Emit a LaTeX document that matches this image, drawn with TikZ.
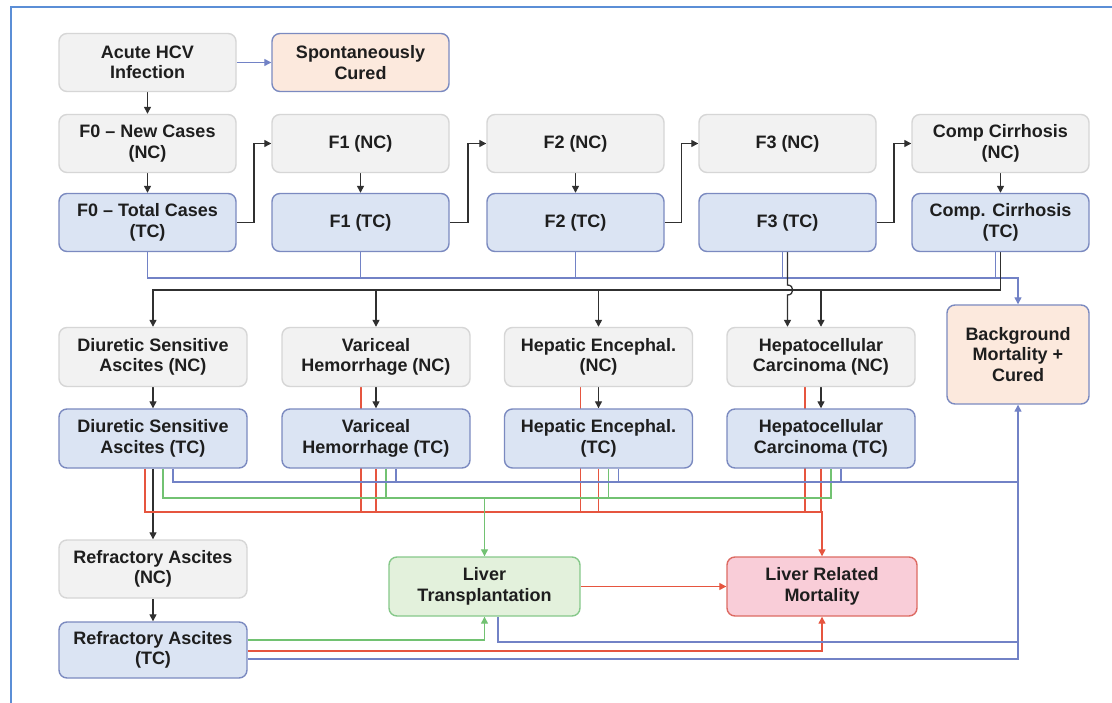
\documentclass[tikz,border=0pt]{standalone}
\usepackage{fontspec}
\setmainfont{Liberation Sans}
\usetikzlibrary{arrows.meta,calc}
\pgfdeclarelayer{paper}
\pgfdeclarelayer{wires}
\pgfsetlayers{paper,wires,main}

\definecolor{txt}{HTML}{1E1E1E}
\definecolor{ncfill}{HTML}{F2F2F2}
\definecolor{ncline}{HTML}{D6D6D6}
\definecolor{tcfill}{HTML}{DBE4F3}
\definecolor{tcline}{HTML}{7B8AC0}
\definecolor{peach}{HTML}{FCE9DD}
\definecolor{ltfill}{HTML}{E3F1DC}
\definecolor{ltline}{HTML}{86C88A}
\definecolor{lrmfill}{HTML}{F9CDD8}
\definecolor{lrmline}{HTML}{DD6B63}
\definecolor{kline}{HTML}{303030}
\definecolor{bline}{HTML}{7282C6}
\definecolor{rline}{HTML}{E6553F}
\definecolor{gline}{HTML}{72C272}
\definecolor{frame}{HTML}{5B8ED6}

\tikzset{
  box/.style={rounded corners=8pt, align=center, text=txt, inner sep=1pt,
    line width=1.4pt, font=\bfseries\fontsize{18}{20.5}\selectfont},
  nc/.style={box, draw=ncline, fill=ncfill},
  tc/.style={box, draw=tcline, fill=tcfill},
  cur/.style={box, draw=tcline, fill=peach},
  ltx/.style={box, draw=ltline, fill=ltfill},
  lrmx/.style={box, draw=lrmline, fill=lrmfill},
  colA/.style={minimum width=177pt, minimum height=58pt},
  colB/.style={minimum width=188pt, minimum height=59pt},
  wire/.style={line width=1.3pt},
  tip/.style={-{Triangle[length=7pt,width=7pt]}},
  kw/.style={wire, draw=kline},
  bw/.style={wire, draw=bline},
  rw/.style={wire, draw=rline},
  gw/.style={wire, draw=gline},
}

\begin{document}
\begin{tikzpicture}[x=1pt,y=-1pt]
\useasboundingbox (0,0) rectangle (1112,703);
\begin{pgfonlayer}{paper}
  \fill[white] (0,0) rectangle (1112,703);
\end{pgfonlayer}
\draw[frame, line width=2pt] (11,703) -- (11,7) -- (1112,7);

% top rows: staging of fibrosis
\node[nc,colA]  (acute) at (147.5,62.5) {Acute HCV\\Infection};
\node[cur,colA] (spont) at (360.5,62.5) {Spontaneously\\Cured};

\node[nc,colA] (f0nc) at (147.5,143.5)  {F0 -- New Cases\\(NC)};
\node[nc,colA] (f1nc) at (360.5,143.5)  {F1 (NC)};
\node[nc,colA] (f2nc) at (575.5,143.5)  {F2 (NC)};
\node[nc,colA] (f3nc) at (787.5,143.5)  {F3 (NC)};
\node[nc,colA] (ccnc) at (1000.5,143.5) {Comp Cirrhosis\\(NC)};

\node[tc,colA] (f0tc) at (147.5,222.5)  {F0 -- Total Cases\\(TC)};
\node[tc,colA] (f1tc) at (360.5,222.5)  {F1 (TC)};
\node[tc,colA] (f2tc) at (575.5,222.5)  {F2 (TC)};
\node[tc,colA] (f3tc) at (787.5,222.5)  {F3 (TC)};
\node[tc,colA] (cctc) at (1000.5,222.5) {Comp. Cirrhosis\\(TC)};

% complications
\node[nc,colB] (dsnc) at (153,357)   {Diuretic Sensitive\\Ascites (NC)};
\node[nc,colB] (vhnc) at (376,357)   {Variceal\\Hemorrhage (NC)};
\node[nc,colB] (henc) at (598.5,357) {Hepatic Encephal.\\(NC)};
\node[nc,colB] (hcnc) at (821,357)   {Hepatocellular\\Carcinoma (NC)};

\node[tc,colB] (dstc) at (153,438.5)   {Diuretic Sensitive\\Ascites (TC)};
\node[tc,colB] (vhtc) at (376,438.5)   {Variceal\\Hemorrhage (TC)};
\node[tc,colB] (hetc) at (598.5,438.5) {Hepatic Encephal.\\(TC)};
\node[tc,colB] (hctc) at (821,438.5)   {Hepatocellular\\Carcinoma (TC)};

\node[cur, minimum width=142pt, minimum height=99pt] (bg) at (1018,354.5)
  {Background\\Mortality +\\Cured};

\node[nc, minimum width=188pt, minimum height=58pt] (rfnc) at (153,569) {Refractory Ascites\\(NC)};
\node[tc, minimum width=188pt, minimum height=56pt] (rftc) at (153,650) {Refractory Ascites\\(TC)};

\node[ltx,  minimum width=191pt, minimum height=59pt] (lt)  at (484.5,586.5) {Liver\\Transplantation};
\node[lrmx, minimum width=190pt, minimum height=59pt] (lrm) at (822,586.5)   {Liver Related\\Mortality};

% levels of the shared buses
\coordinate (yB1) at (0,278);
\coordinate (yK1) at (0,290);
\coordinate (yB2) at (0,482);
\coordinate (yG2) at (0,498);
\coordinate (yR2) at (0,512);
\coordinate (yG3) at (0,640);
\coordinate (yLt) at (0,642);
\coordinate (yR3) at (0,651);
\coordinate (yB3) at (0,659);

% outlets along the bottom of the boxes
\coordinate (f3b) at ($(f3tc.south)+(-5,0)$);
\coordinate (ccb) at ($(cctc.south)+(-5,0)$);
\coordinate (dsR) at ($(dstc.south)+(-8,0)$);
\coordinate (dsG) at ($(dstc.south)+(10,0)$);
\coordinate (dsB) at ($(dstc.south)+(20,0)$);
\coordinate (vhRn) at ($(vhnc.south)+(-15,0)$);
\coordinate (vhR) at (vhtc.south);
\coordinate (vhG) at ($(vhtc.south)+(10,0)$);
\coordinate (vhB) at ($(vhtc.south)+(20,0)$);
\coordinate (heRn) at ($(henc.south)+(-18,0)$);
\coordinate (heR) at (hetc.south);
\coordinate (heG) at ($(hetc.south)+(10,0)$);
\coordinate (heB) at ($(hetc.south)+(20,0)$);
\coordinate (hcRn) at ($(hcnc.south)+(-16,0)$);
\coordinate (hcR) at (hctc.south);
\coordinate (hcG) at ($(hctc.south)+(10,0)$);
\coordinate (hcB) at ($(hctc.south)+(20,0)$);
\coordinate (ltB) at ($(lt.south)+(13.5,0)$);

\begin{pgfonlayer}{wires}
  % progression
  \draw[bw,tip] (acute.east) -- (spont.west);
  \draw[kw,tip] (acute.south) -- (f0nc.north);
  \draw[kw,tip] (f0nc.south) -- (f0tc.north);
  \draw[kw,tip] (f1nc.south) -- (f1tc.north);
  \draw[kw,tip] (f2nc.south) -- (f2tc.north);
  \draw[kw,tip] (ccnc.south) -- (cctc.north);
  \draw[kw,tip] (f0tc.east) -| ($(f0tc.east)!.5!(f1nc.west)$) |- (f1nc.west);
  \draw[kw,tip] (f1tc.east) -| ($(f1tc.east)!.5!(f2nc.west)$) |- (f2nc.west);
  \draw[kw,tip] (f2tc.east) -| ($(f2tc.east)!.5!(f3nc.west)$) |- (f3nc.west);
  \draw[kw,tip] (f3tc.east) -| ($(f3tc.east)!.5!(ccnc.west)$) |- (ccnc.west);

  % background mortality bus
  \draw[bw,tip] (f0tc.south) |- (bg.north |- yB1) -- (bg.north);
  \draw[bw] (f1tc.south) -- (f1tc.south |- yB1);
  \draw[bw] (f2tc.south) -- (f2tc.south |- yB1);
  \draw[bw] (f3b) -- (f3b |- yB1);
  \draw[bw] (ccb) -- (ccb |- yB1);

  % decompensation bus
  \draw[kw,tip] (cctc.south) |- (dsnc.north |- yK1) -- (dsnc.north);
  \draw[kw,tip] (vhnc.north |- yK1) -- (vhnc.north);
  \draw[kw,tip] (henc.north |- yK1) -- (henc.north);
  \draw[kw,tip] (hcnc.north |- yK1) -- (hcnc.north);
  \draw[kw,tip] (f3tc.south)
    -- ($(f3tc.south |- yK1)+(0,-5)$)
    .. controls +(7,0) and +(7,0) .. ($(f3tc.south |- yK1)+(0,5)$)
    -- (f3tc.south |- hcnc.north);

  \draw[kw,tip] (dsnc.south) -- (dstc.north);
  \draw[kw,tip] (vhnc.south) -- (vhtc.north);
  \draw[kw,tip] (henc.south) -- (hetc.north);
  \draw[kw,tip] (hcnc.south) -- (hctc.north);
  \draw[kw,tip] (dstc.south) -- (rfnc.north);
  \draw[kw,tip] (rfnc.south) -- (rftc.north);

  % liver related mortality
  \draw[rw,tip] (dsR) |- (lrm.north |- yR2) -- (lrm.north);
  \draw[rw] (vhRn) -- (vhRn |- yR2);
  \draw[rw] (vhR) -- (vhR |- yR2);
  \draw[rw] (heRn) -- (heRn |- yR2);
  \draw[rw] (heR) -- (heR |- yR2);
  \draw[rw] (hcRn) -- (hcRn |- yR2);
  \draw[rw] (hcR) -- (hcR |- yR2);

  % transplantation
  \draw[gw] (dsG) |- (hcG |- yG2) -- (hcG);
  \draw[gw] (vhG) -- (vhG |- yG2);
  \draw[gw] (heG) -- (heG |- yG2);
  \draw[gw,tip] (lt.north |- yG2) -- (lt.north);

  % background mortality from complications
  \draw[bw] (dsB) |- (bg.south |- yB2);
  \draw[bw] (vhB) -- (vhB |- yB2);
  \draw[bw] (heB) -- (heB |- yB2);
  \draw[bw] (hcB) -- (hcB |- yB2);

  % refractory ascites and transplant outflows
  \draw[gw,tip] (rftc.east |- yG3) -| (lt.south);
  \draw[rw,tip] (rftc.east |- yR3) -| (lrm.south);
  \draw[bw,tip] (rftc.east |- yB3) -| (bg.south);
  \draw[bw] (ltB) |- (bg.south |- yLt);
  \draw[rw,tip] (lt.east) -- (lrm.west);
\end{pgfonlayer}
\end{tikzpicture}
\end{document}
